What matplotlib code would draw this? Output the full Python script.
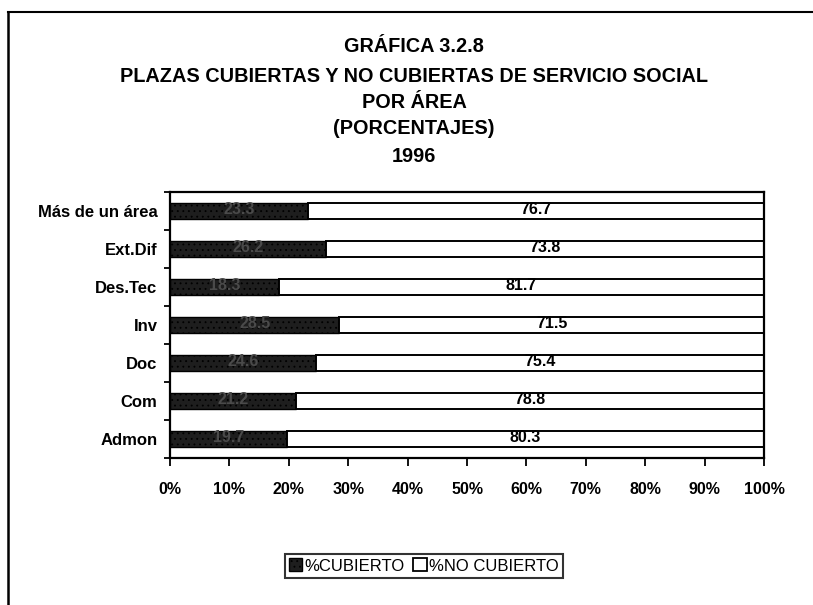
import matplotlib.pyplot as plt
from matplotlib.lines import Line2D
from matplotlib.patches import Patch

plt.rcParams['font.family'] = ['Liberation Sans', 'DejaVu Sans']
plt.rcParams['hatch.color'] = 'white'
plt.rcParams['hatch.linewidth'] = 0.6

# data (top to bottom)
areas = ['Más de un área', 'Ext.Dif', 'Des.Tec', 'Inv', 'Doc', 'Com', 'Admon']
cubierto = [23.3, 26.2, 18.3, 28.5, 24.6, 21.2, 19.7]
no_cubierto = [76.7, 73.8, 81.7, 71.5, 75.4, 78.8, 80.3]
x_ticks = [0, 10, 20, 30, 40, 50, 60, 70, 80, 90, 100]
title_lines = ['GRÁFICA 3.2.8',
               'PLAZAS CUBIERTAS Y NO CUBIERTAS DE SERVICIO SOCIAL',
               'POR ÁREA',
               '(PORCENTAJES)',
               '1996']

fig = plt.figure(figsize=(8.13, 6.05), dpi=100)
W, H = 813, 605
ax = fig.add_axes([170 / W, 1 - 458 / H, (764 - 170) / W, (458 - 192) / H])

ypos = list(range(len(areas)))
b1 = ax.barh(ypos, cubierto, height=0.4, color='#1e1e1e', edgecolor='black',
             linewidth=1.0, hatch='...', label='%CUBIERTO')
b2 = ax.barh(ypos, no_cubierto, left=cubierto, height=0.4, color='white',
             edgecolor='black', linewidth=1.4, label='%NO CUBIERTO')

for i in ypos:
    ax.text(cubierto[i] / 2, i - 0.05, f'{cubierto[i]:.1f}', ha='center', va='center',
            fontsize=11.5, fontweight='bold', color='#4a4a4a')
    ax.text(cubierto[i] + no_cubierto[i] / 2, i - 0.05, f'{no_cubierto[i]:.1f}',
            ha='center', va='center', fontsize=11.5, fontweight='bold')

ax.set_xlim(0, 100)
ax.set_ylim(len(areas) - 0.5, -0.5)
ax.set_xticks(x_ticks)
ax.set_xticklabels([f'{v}%' for v in x_ticks], fontsize=11.5, fontweight='bold')
ax.set_yticks(ypos)
ax.set_yticklabels(areas, fontsize=12, fontweight='bold')
ax.tick_params(axis='y', which='major', length=0, pad=9)
ax.set_yticks([k + 0.5 for k in range(-1, len(areas))], minor=True)
ax.tick_params(axis='y', which='minor', length=4, width=1.3, direction='out')
ax.tick_params(axis='x', length=6, width=1.3, direction='out', pad=11)
for s in ax.spines.values():
    s.set_linewidth(1.6)

# stacked title lines
for txt, yy in zip(title_lines, [47, 77, 103, 128, 157]):
    fig.text(414 / W, 1 - yy / H, txt, ha='center', va='center',
             fontsize=14.3, fontweight='bold')

# frame lines of the scanned page
fig.add_artist(Line2D([8 / W, 8 / W], [0, 1 - 12 / H], color='black', lw=1.8))
fig.add_artist(Line2D([8 / W, 1], [1 - 12 / H, 1 - 12 / H], color='black', lw=1.5))

handles = [Patch(facecolor='#1e1e1e', edgecolor='black', hatch='...'),
           Patch(facecolor='white', edgecolor='black', linewidth=1.3)]
leg = fig.legend(handles, ['%CUBIERTO', '%NO CUBIERTO'], loc='center',
                 bbox_to_anchor=(424 / W, 1 - 566 / H), ncol=2, fontsize=12,
                 frameon=True, fancybox=False, edgecolor='black',
                 handlelength=0.8, handleheight=0.8, handletextpad=0.15,
                 columnspacing=0.5, borderpad=0.25, borderaxespad=0)
leg.get_frame().set_linewidth(1.5)

fig.savefig('out.png', dpi=100)
